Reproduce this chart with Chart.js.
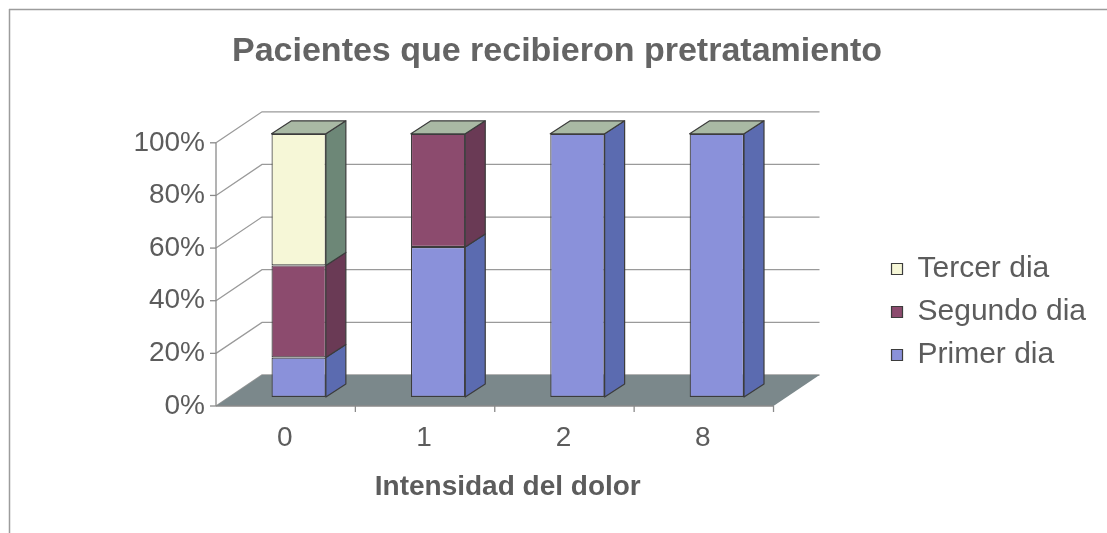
<!DOCTYPE html>
<html><head><meta charset="utf-8">
<script src="https://cdn.jsdelivr.net/npm/chart.js@4.4.1/dist/chart.umd.min.js"></script>
<style>html,body{margin:0;padding:0;background:#fff;} #wrap{position:relative;width:1107px;height:533px;}</style>
</head><body><div id="wrap"><canvas id="c"></canvas></div>
<script>
const categories = ['0', '1', '2', '8'];
const primerDia = [15, 57, 100, 100];
const segundoDia = [35, 43, 0, 0];
const tercerDia = [50, 0, 0, 0];
const seriesNames = ['Primer dia', 'Segundo dia', 'Tercer dia'];
const yMin = 0, yMax = 100, yStep = 20;
const titleText = 'Pacientes que recibieron pretratamiento';
const xTitleText = 'Intensidad del dolor';

const FONT = "'Liberation Sans', Arial, sans-serif";
const TEXT = '#5c5c5c';
const FRONT = {dx: -13, dy: 9};
const BACK = {dx: 33, dy: -22};
const BAR_DEPTH = {dx: 20, dy: -13};
const frontColors = ['#8a91da', '#8c4b6e', '#f6f7d7'];
const sideColors = ['#5b6bb0', '#6a3a55', '#6d8777'];
const topColor = '#a9b9a4';
const floorColor = '#7b888b';
const gridColor = '#9a9a9a';
const edgeColor = '#3c3c3c';

function poly(ctx, pts, fill, stroke, lw) {
  ctx.beginPath();
  ctx.moveTo(pts[0][0], pts[0][1]);
  for (let i = 1; i < pts.length; i++) ctx.lineTo(pts[i][0], pts[i][1]);
  ctx.closePath();
  if (fill) { ctx.fillStyle = fill; ctx.fill(); }
  if (stroke) { ctx.strokeStyle = stroke; ctx.lineWidth = lw || 1; ctx.stroke(); }
}
function line(ctx, x1, y1, x2, y2, c, lw) {
  ctx.beginPath(); ctx.moveTo(x1, y1); ctx.lineTo(x2, y2);
  ctx.strokeStyle = c; ctx.lineWidth = lw || 1; ctx.stroke();
}

const threeD = {
  id: 'threeD',
  beforeDatasetsDraw(chart) {
    const {ctx, chartArea: a, scales: {x, y}} = chart;
    const F = (px, py) => [px + FRONT.dx, py + FRONT.dy];
    const B = (px, py) => [px + BACK.dx, py + BACK.dy];
    ctx.save();
    y.ticks.forEach(t => {
      const py = y.getPixelForValue(t.value);
      const f = F(a.left, py), bl = B(a.left, py), br = B(a.right, py);
      ctx.beginPath(); ctx.moveTo(f[0], f[1]); ctx.lineTo(bl[0], bl[1]); ctx.lineTo(br[0], br[1]);
      ctx.strokeStyle = gridColor; ctx.lineWidth = 1.3; ctx.stroke();
    });
    const y0 = y.getPixelForValue(yMin);
    poly(ctx, [F(a.left, y0), F(a.right, y0), B(a.right, y0), B(a.left, y0)], floorColor, null);
    const ft = F(a.left, y.getPixelForValue(yMax)), fb = F(a.left, y0);
    line(ctx, ft[0], ft[1], fb[0], fb[1], '#8a8a8a', 1.3);
    y.ticks.forEach(t => {
      const p = F(a.left, y.getPixelForValue(t.value));
      line(ctx, p[0] - 6, p[1], p[0], p[1], '#8a8a8a', 1.3);
    });
    const fr = F(a.right, y0);
    line(ctx, fb[0], fb[1], fr[0], fr[1], '#8a8a8a', 1.3);
    const n = categories.length, w = a.width / n;
    for (let i = 1; i <= n; i++) {
      const p = F(a.left + i * w, y0);
      line(ctx, p[0], p[1], p[0], p[1] + 6, '#8a8a8a', 1.3);
    }
    ctx.restore();
  },
  afterDatasetsDraw(chart) {
    const {ctx} = chart;
    ctx.save();
    ctx.lineJoin = 'round';
    const tops = {};
    chart.data.datasets.forEach((ds, i) => {
      const meta = chart.getDatasetMeta(i);
      if (meta.hidden) return;
      meta.data.forEach((el, j) => {
        if (!ds.data[j]) return;
        const p = el.getProps(['x', 'y', 'base', 'width'], true);
        const l = p.x - p.width / 2, r = p.x + p.width / 2;
        const top = Math.min(p.y, p.base), bot = Math.max(p.y, p.base);
        poly(ctx, [[r, top], [r + BAR_DEPTH.dx, top + BAR_DEPTH.dy], [r + BAR_DEPTH.dx, bot + BAR_DEPTH.dy], [r, bot]],
          sideColors[i], edgeColor, 1.2);
        if (!tops[j] || top < tops[j].top) tops[j] = {l, r, top};
      });
    });
    Object.values(tops).forEach(t => {
      poly(ctx, [[t.l, t.top], [t.l + BAR_DEPTH.dx, t.top + BAR_DEPTH.dy], [t.r + BAR_DEPTH.dx, t.top + BAR_DEPTH.dy], [t.r, t.top]],
        topColor, edgeColor, 1.2);
    });
    ctx.restore();
  },
  afterDraw(chart) {
    const {ctx} = chart;
    ctx.save();
    line(ctx, 9, 9.5, 1107, 9.5, '#9c9c9c', 1.5);
    line(ctx, 9.5, 9, 9.5, 533, '#9c9c9c', 1.5);
    ctx.restore();
  }
};

const datasets = [primerDia, segundoDia, tercerDia].map((d, i) => ({
  label: seriesNames[i],
  data: d,
  backgroundColor: frontColors[i],
  borderColor: edgeColor,
  borderWidth: 1.2,
  borderSkipped: false,
  categoryPercentage: 1,
  barPercentage: 0.39
}));

new Chart(document.getElementById('c'), {
  type: 'bar',
  data: {labels: categories, datasets},
  plugins: [threeD],
  options: {
    responsive: true,
    maintainAspectRatio: false,
    animation: false,
    layout: {padding: {left: 18, right: 11, top: 0, bottom: 0}},
    plugins: {
      title: {
        display: true, text: titleText, color: '#646464',
        font: {family: FONT, size: 34, weight: 'bold'},
        padding: {top: 31, bottom: 62}
      },
      legend: {
        position: 'right', align: 'start', reverse: true, maxWidth: 320,
        title: {display: true, text: '', font: {size: 10}, padding: {top: 229, bottom: 0}},
        labels: {
          color: TEXT, font: {family: FONT, size: 30},
          boxWidth: 11, boxHeight: 11, padding: 13
        }
      },
      tooltip: {enabled: false}
    },
    scales: {
      x: {
        stacked: true,
        grid: {display: false, drawTicks: false},
        border: {display: false},
        ticks: {color: TEXT, font: {family: FONT, size: 28}, labelOffset: -14, padding: 24},
        title: {display: true, text: xTitleText, color: TEXT, font: {family: FONT, size: 28, weight: 'bold'}, padding: {top: 0, bottom: 29}},
        afterFit(s) { s.height = 136; }
      },
      y: {
        stacked: true, min: yMin, max: yMax,
        grid: {display: false, drawTicks: false},
        border: {display: false},
        ticks: {stepSize: yStep, color: TEXT, font: {family: FONT, size: 28}, labelOffset: 9, padding: 24,
          callback: v => v + '%'},
        afterFit(s) { s.width = 211; }
      },
      spacer: {
        type: 'linear', position: 'right', display: true,
        grid: {display: false, drawTicks: false},
        border: {display: false},
        ticks: {display: false},
        afterFit(s) { s.width = 92; }
      }
    }
  }
});
</script></body></html>
